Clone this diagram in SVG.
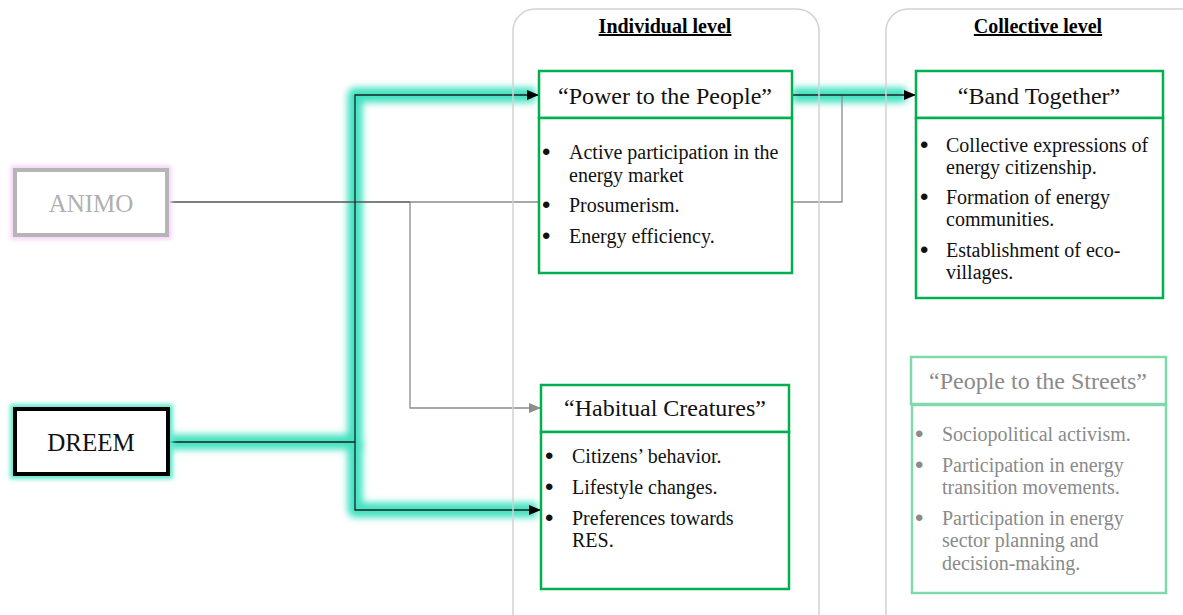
<svg xmlns="http://www.w3.org/2000/svg" width="1183" height="615" viewBox="0 0 1183 615">
  <style>
    text { font-family: "Liberation Serif", "Times New Roman", serif; }
    .heading { font-size: 20px; font-weight: bold; text-decoration: underline; fill: #000; }
    .title { font-size: 24px; fill: #111; }
    .item { font-size: 20px; fill: #111; }
    .dot { font-family: "Liberation Sans", Arial, sans-serif; font-size: 24px; fill: #111; }
    .muted .title, .muted .item, .muted .dot { fill: #8a8a8a; }
    .box { fill: #fff; stroke: #00b050; stroke-width: 2.5; }
    .muted .box { stroke: #7fd9ab; }
    .column { fill: none; stroke: #d2d2d2; stroke-width: 1.5; }
    .glow { fill: none; stroke: #3fe2c1; stroke-width: 15; stroke-linejoin: round; filter: url(#soft); }
    .wire { fill: none; stroke: #222; stroke-width: 1.3; }
    .wire-grey { fill: none; stroke: #8c8c8c; stroke-width: 1.3; }
  </style>
  <defs>
    <filter id="soft" filterUnits="userSpaceOnUse" x="0" y="0" width="1183" height="615">
      <feGaussianBlur stdDeviation="3.5"/>
    </filter>
    <filter id="halo" x="-20%" y="-30%" width="140%" height="160%">
      <feGaussianBlur stdDeviation="2"/>
    </filter>
    <marker id="arrow" markerWidth="12" markerHeight="10" refX="11" refY="5" orient="auto" markerUnits="userSpaceOnUse">
      <path d="M0,0 L12,5 L0,10 Z" fill="#000"/>
    </marker>
    <marker id="arrow-grey" markerWidth="12" markerHeight="10" refX="11" refY="5" orient="auto" markerUnits="userSpaceOnUse">
      <path d="M0,0 L12,5 L0,10 Z" fill="#8c8c8c"/>
    </marker>
  </defs>

  <rect width="1183" height="615" fill="#fff"/>

  <!-- connectors -->
  <g id="connectors">
    <!-- highlighted DREEM routes -->
    <path class="glow" d="M169,442 H355 V95 H535"/>
    <path class="glow" d="M355,442 V510 H537"/>
    <path class="glow" d="M792,95 H906"/>
    <!-- ANIMO routes -->
    <path class="wire-grey" d="M410,202 V408 H540" marker-end="url(#arrow-grey)"/>
    <path class="wire-grey" d="M410,202 H842 V95"/>
    <path d="M170,202 H410" stroke="#555" stroke-width="1.3" fill="none"/>
    <!-- DREEM routes -->
    <path class="wire" d="M169,442 H355 V95 H538" marker-end="url(#arrow)"/>
    <path class="wire" d="M355,442 V510 H540" marker-end="url(#arrow)"/>
    <path class="wire" d="M792,95 H915" marker-end="url(#arrow)"/>
  </g>

  <!-- level columns -->
  <g id="individual-level">
    <rect class="column" x="513" y="9" width="306" height="640" rx="22"/>
    <text class="heading" x="665" y="33" text-anchor="middle">Individual level</text>
  </g>
  <g id="collective-level">
    <rect class="column" x="886" y="9" width="330" height="640" rx="22"/>
    <text class="heading" x="1038" y="33" text-anchor="middle">Collective level</text>
  </g>

  <!-- sources -->
  <g id="animo">
    <rect x="15" y="170" width="152" height="65" fill="none" stroke="#f5d2f8" stroke-width="9" filter="url(#halo)"/>
    <rect x="15" y="170" width="152" height="65" fill="#fff" stroke="#b5b5b5" stroke-width="4"/>
    <text x="91" y="212" text-anchor="middle" font-size="25" fill="#b0b0b0">ANIMO</text>
  </g>
  <g id="dreem">
    <rect x="15" y="409" width="153" height="65" fill="none" stroke="#5fe8cc" stroke-width="10" filter="url(#halo)"/>
    <rect x="15" y="409" width="153" height="65" fill="#fff" stroke="#000" stroke-width="4"/>
    <text x="91" y="451" text-anchor="middle" font-size="25" fill="#111">DREEM</text>
  </g>

  <!-- individual level nodes -->
  <g id="power-to-the-people">
    <rect class="box" x="539" y="71" width="253" height="47"/>
    <rect class="box" x="539" y="118" width="253" height="155"/>
    <text class="title" x="665" y="104" text-anchor="middle">“Power to the People”</text>
    <text class="dot" x="542" y="160">•</text>
    <text class="item" x="569" y="159">Active participation in the</text>
    <text class="item" x="569" y="182">energy market</text>
    <text class="dot" x="542" y="213">•</text>
    <text class="item" x="569" y="212">Prosumerism.</text>
    <text class="dot" x="542" y="244">•</text>
    <text class="item" x="569" y="243">Energy efficiency.</text>
  </g>

  <g id="habitual-creatures">
    <rect class="box" x="541" y="385" width="248" height="47"/>
    <rect class="box" x="541" y="432" width="248" height="157"/>
    <text class="title" x="665" y="416" text-anchor="middle">“Habitual Creatures”</text>
    <text class="dot" x="545" y="464">•</text>
    <text class="item" x="572" y="463">Citizens’ behavior.</text>
    <text class="dot" x="545" y="495">•</text>
    <text class="item" x="572" y="494">Lifestyle changes.</text>
    <text class="dot" x="545" y="526">•</text>
    <text class="item" x="572" y="525">Preferences towards</text>
    <text class="item" x="572" y="547">RES.</text>
  </g>

  <!-- collective level nodes -->
  <g id="band-together">
    <rect class="box" x="916" y="71" width="247" height="47"/>
    <rect class="box" x="916" y="118" width="247" height="180"/>
    <text class="title" x="1039" y="104" text-anchor="middle">“Band Together”</text>
    <text class="dot" x="920" y="153">•</text>
    <text class="item" x="946" y="152">Collective expressions of</text>
    <text class="item" x="946" y="174">energy citizenship.</text>
    <text class="dot" x="920" y="205">•</text>
    <text class="item" x="946" y="204">Formation of energy</text>
    <text class="item" x="946" y="226">communities.</text>
    <text class="dot" x="920" y="258">•</text>
    <text class="item" x="946" y="257">Establishment of eco-</text>
    <text class="item" x="946" y="279">villages.</text>
  </g>

  <g id="people-to-the-streets" class="muted">
    <rect class="box" x="911" y="357" width="255" height="47"/>
    <rect class="box" x="912" y="405" width="254" height="188"/>
    <text class="title" x="1038" y="389" text-anchor="middle">“People to the Streets”</text>
    <text class="dot" x="915" y="442">•</text>
    <text class="item" x="942" y="441">Sociopolitical activism.</text>
    <text class="dot" x="915" y="473">•</text>
    <text class="item" x="942" y="472">Participation in energy</text>
    <text class="item" x="942" y="494">transition movements.</text>
    <text class="dot" x="915" y="526">•</text>
    <text class="item" x="942" y="525">Participation in energy</text>
    <text class="item" x="942" y="547">sector planning and</text>
    <text class="item" x="942" y="570">decision-making.</text>
  </g>
</svg>
